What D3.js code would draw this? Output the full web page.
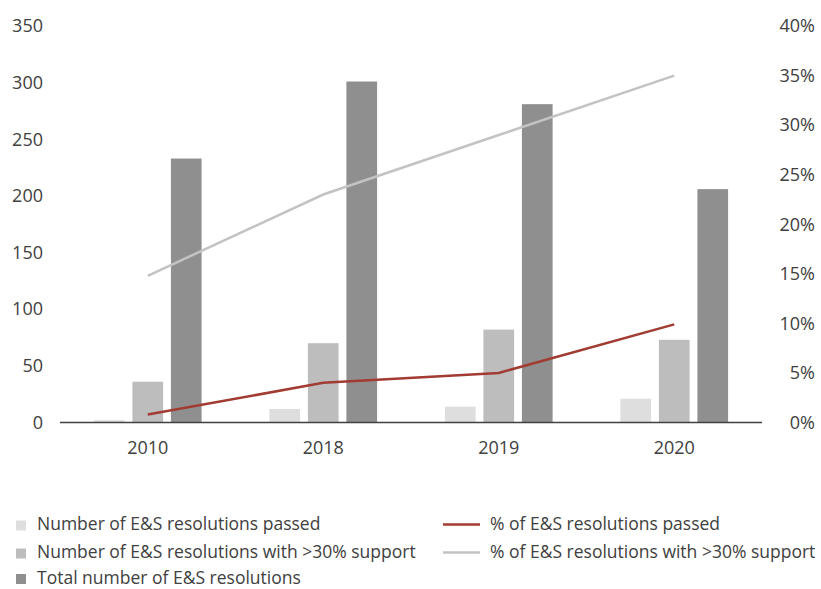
<!DOCTYPE html>
<html><head><meta charset="utf-8">
<script src="https://cdn.jsdelivr.net/npm/d3@7"></script>
<style>body{margin:0;background:#fff}text{font-family:"Open Sans",sans-serif;fill:#404040}</style>
</head><body><svg id="c" width="821" height="589"></svg>
<script>
const categories = ["2010","2018","2019","2020"];
const passed = [2, 12, 14, 21];
const over30 = [36, 70, 82, 73];
const total = [233, 301, 281, 206];
const pctPassed = [0.8, 4.0, 5.0, 9.9];
const pctOver30 = [14.8, 23.0, 29.0, 35.0];
const leftTicks = [0,50,100,150,200,250,300,350];
const rightTicks = [0,5,10,15,20,25,30,35,40];
const barSeries = [
  {name:"Number of E&S resolutions passed", values:passed, color:"#dedede"},
  {name:"Number of E&S resolutions with >30% support", values:over30, color:"#bdbdbd"},
  {name:"Total number of E&S resolutions", values:total, color:"#8f8f8f"}
];
const lineSeries = [
  {name:"% of E&S resolutions passed", values:pctPassed, color:"#a23b32"},
  {name:"% of E&S resolutions with >30% support", values:pctOver30, color:"#c3c3c3"}
];

const svg = d3.select("#c");
const L=60, R=762, T=26, B=422.5;
const x = d3.scaleBand().domain(categories).range([L,R]);
const y = d3.scaleLinear().domain([0,350]).range([B,T]);
const y2 = d3.scaleLinear().domain([0,40]).range([B,T]);
const bw = 30.7, step = 38.5;
const tickFont = 18, legFont = 17.5;

barSeries.forEach((s,si)=>{
  svg.append("g").selectAll("rect").data(s.values).join("rect")
    .attr("x",(d,i)=>x(categories[i])+x.bandwidth()/2+(si-1)*step-bw/2)
    .attr("width",bw)
    .attr("y",d=>y(d)).attr("height",d=>B-y(d))
    .attr("fill",s.color);
});

const line = d3.line().x((d,i)=>x(categories[i])+x.bandwidth()/2).y(d=>y2(d));
lineSeries.slice().reverse().forEach(s=>{
  svg.append("path").attr("d",line(s.values)).attr("fill","none")
    .attr("stroke",s.color).attr("stroke-width",2.5);
});

svg.append("line").attr("x1",L).attr("x2",R).attr("y1",B).attr("y2",B).attr("stroke","#404040").attr("stroke-width",1.3);

function styleTicks(sel){ sel.selectAll("text").attr("font-size",tickFont).attr("fill","#404040").style("font-family","'Open Sans',sans-serif"); }
const la = d3.axisLeft(y).tickValues(leftTicks).tickSize(0).tickPadding(0);
svg.append("g").attr("transform","translate(43,0)").call(la)
  .call(g=>g.select(".domain").remove()).call(styleTicks);
const ra = d3.axisRight(y2).tickValues(rightTicks).tickFormat(d=>d+"%").tickSize(0).tickPadding(0);
const rg = svg.append("g").attr("transform","translate(815,0)").call(ra)
  .call(g=>g.select(".domain").remove()).call(styleTicks);
rg.selectAll("text").attr("text-anchor","end");
const xa = d3.axisBottom(x).tickSize(0).tickPadding(0);
svg.append("g").attr("transform","translate(0,441)").call(xa)
  .call(g=>g.select(".domain").remove()).call(styleTicks);

const baseY = [530, 558, 583.5];
barSeries.forEach((s,i)=>{
  svg.append("rect").attr("x",16).attr("y",baseY[i]-9.5).attr("width",10).attr("height",10).attr("fill",s.color);
  svg.append("text").attr("x",37).attr("y",baseY[i]).attr("font-size",legFont).text(s.name);
});
lineSeries.forEach((s,i)=>{
  svg.append("line").attr("x1",443).attr("x2",480).attr("y1",baseY[i]-5.5).attr("y2",baseY[i]-5.5).attr("stroke",s.color).attr("stroke-width",2.5);
  svg.append("text").attr("x",490).attr("y",baseY[i]).attr("font-size",legFont).text(s.name);
});
</script></body></html>
